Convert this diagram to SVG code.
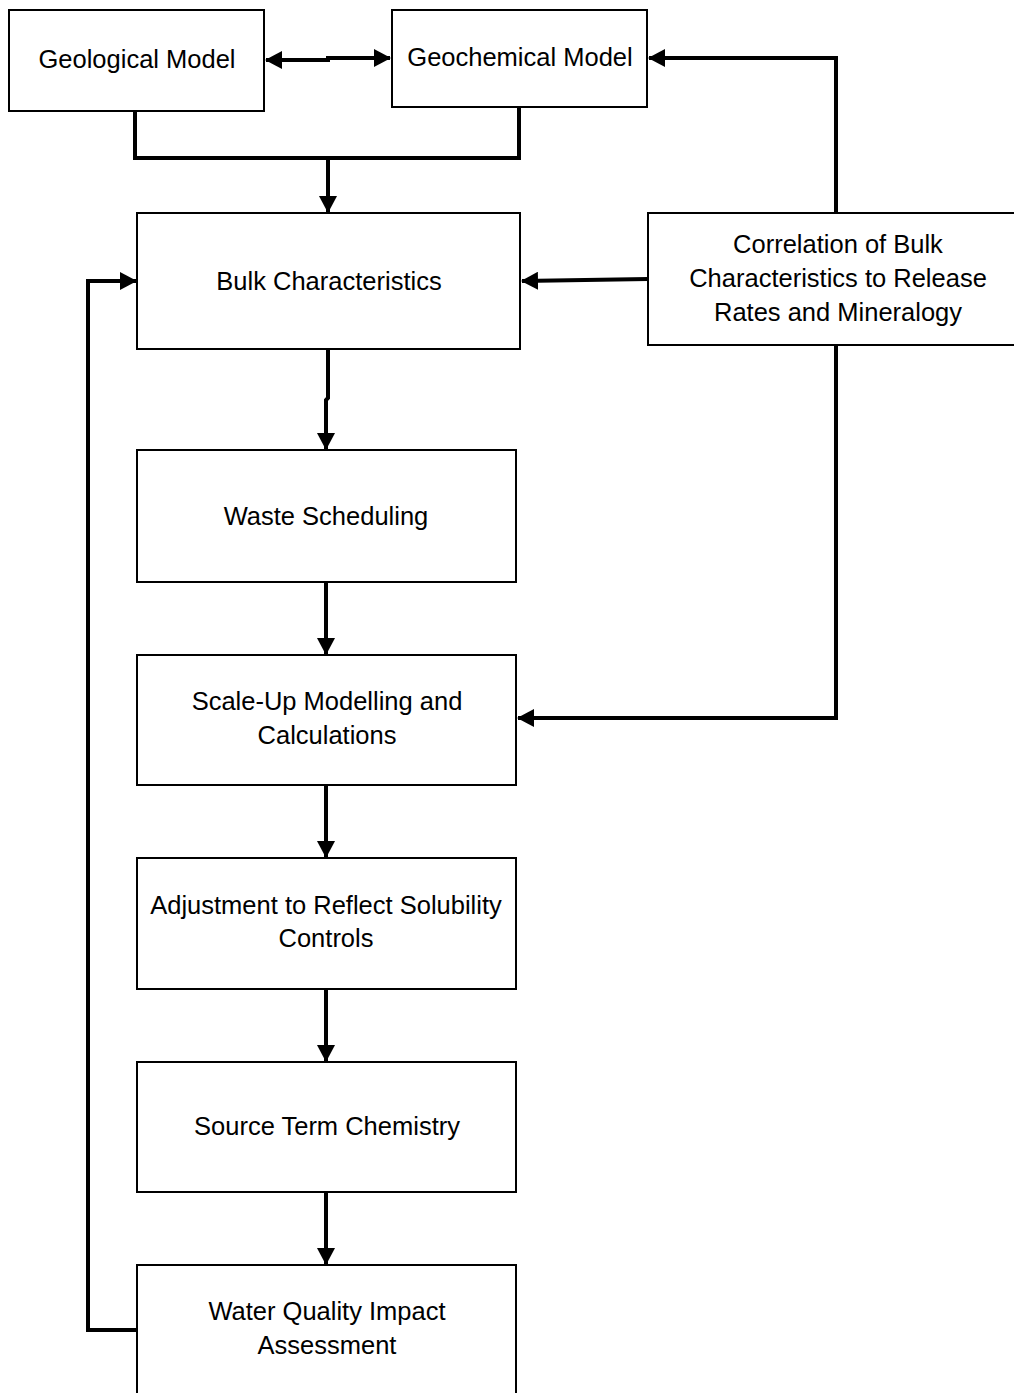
<svg xmlns="http://www.w3.org/2000/svg" width="1014" height="1393" viewBox="0 0 1014 1393">
<style>
.box{fill:#fff;stroke:#000;stroke-width:2}
.lbl{font-family:"Liberation Sans",Arial,sans-serif;font-size:25.5px;fill:#000;text-anchor:middle}
.con{fill:none;stroke:#000;stroke-width:4;stroke-linejoin:miter}
</style>
<defs>
<marker id="ah" markerUnits="userSpaceOnUse" markerWidth="17" markerHeight="18" refX="16" refY="9" orient="auto-start-reverse" viewBox="0 0 17 18">
<path d="M0,0 L17,9 L0,18 z" fill="#000"/>
</marker>
</defs>
<g id="connectors">
<path class="con" d="M266,60 H328 V58 H390" marker-start="url(#ah)" marker-end="url(#ah)"/>
<path class="con" d="M135,111 V158 H519 V107"/>
<path class="con" d="M328,158 V212" marker-end="url(#ah)"/>
<path class="con" d="M836,213 V58 H649" marker-end="url(#ah)"/>
<path class="con" d="M648,279 L522,281" marker-end="url(#ah)"/>
<path class="con" d="M836,345 V718 H518" marker-end="url(#ah)"/>
<path class="con" d="M328,349 V398 L326,400 V449" marker-end="url(#ah)"/>
<path class="con" d="M326,582 V654" marker-end="url(#ah)"/>
<path class="con" d="M326,785 V857" marker-end="url(#ah)"/>
<path class="con" d="M326,989 V1061" marker-end="url(#ah)"/>
<path class="con" d="M326,1192 V1264" marker-end="url(#ah)"/>
<path class="con" d="M137,1330 H88 V281 H136" marker-end="url(#ah)"/>
</g>
<g id="geological">
<rect class="box" x="9" y="10" width="255" height="101"/>
<text class="lbl" x="137" y="68">Geological Model</text>
</g>
<g id="geochemical">
<rect class="box" x="392" y="10" width="255" height="97"/>
<text class="lbl" x="520" y="66">Geochemical Model</text>
</g>
<g id="bulk">
<rect class="box" x="137" y="213" width="383" height="136"/>
<text class="lbl" x="329" y="290">Bulk Characteristics</text>
</g>
<g id="correlation">
<rect class="box" x="648" y="213" width="380" height="132"/>
<text class="lbl" x="838" y="253">Correlation of Bulk</text>
<text class="lbl" x="838" y="287">Characteristics to Release</text>
<text class="lbl" x="838" y="321">Rates and Mineralogy</text>
</g>
<g id="waste">
<rect class="box" x="137" y="450" width="379" height="132"/>
<text class="lbl" x="326" y="525">Waste Scheduling</text>
</g>
<g id="scaleup">
<rect class="box" x="137" y="655" width="379" height="130"/>
<text class="lbl" x="327" y="710">Scale-Up Modelling and</text>
<text class="lbl" x="327" y="744">Calculations</text>
</g>
<g id="adjustment">
<rect class="box" x="137" y="858" width="379" height="131"/>
<text class="lbl" x="326" y="914">Adjustment to Reflect Solubility</text>
<text class="lbl" x="326" y="947">Controls</text>
</g>
<g id="source">
<rect class="box" x="137" y="1062" width="379" height="130"/>
<text class="lbl" x="327" y="1135">Source Term Chemistry</text>
</g>
<g id="water">
<rect class="box" x="137" y="1265" width="379" height="140"/>
<text class="lbl" x="327" y="1320">Water Quality Impact</text>
<text class="lbl" x="327" y="1354">Assessment</text>
</g>
</svg>
